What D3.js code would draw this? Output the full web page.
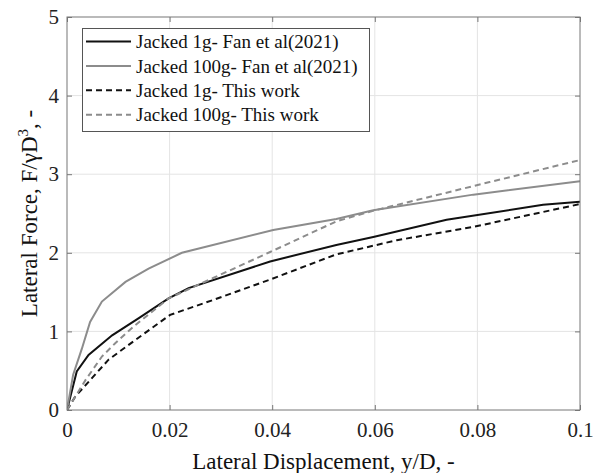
<!DOCTYPE html>
<html><head><meta charset="utf-8">
<script src="https://cdn.jsdelivr.net/npm/d3@7"></script>
<style>body{margin:0;background:#fff}text{font-family:"Liberation Serif","Times New Roman",serif}</style>
</head><body>
<svg id="c" width="597" height="473"></svg>
<script>
const xTicks = [0, 0.02, 0.04, 0.06, 0.08, 0.1];
const xTickLabels = ["0", "0.02", "0.04", "0.06", "0.08", "0.1"];
const yTicks = [0, 1, 2, 3, 4, 5];
const yTickLabels = ["0", "1", "2", "3", "4", "5"];
const seriesNames = ["Jacked 1g- Fan et al(2021)", "Jacked 100g- Fan et al(2021)", "Jacked 1g- This work", "Jacked 100g- This work"];
const fan1g = [[0,0],[0.0019,0.49],[0.0042,0.70],[0.0088,0.95],[0.014,1.17],[0.0198,1.42],[0.0237,1.55],[0.0396,1.89],[0.0525,2.10],[0.0597,2.20],[0.074,2.42],[0.0928,2.61],[0.1,2.65]];
const fan100g = [[0,0],[0.0012,0.45],[0.0029,0.78],[0.0045,1.12],[0.0068,1.38],[0.0114,1.63],[0.0159,1.80],[0.0224,2.0],[0.0402,2.29],[0.0525,2.43],[0.0597,2.54],[0.0792,2.74],[0.1,2.91]];
const this1g = [[0,0],[0.0016,0.17],[0.0045,0.38],[0.0081,0.64],[0.0133,0.89],[0.0201,1.21],[0.0285,1.40],[0.0396,1.66],[0.0525,1.98],[0.0643,2.16],[0.0792,2.33],[0.1,2.62]];
const this100g = [[0,0],[0.0036,0.38],[0.0068,0.68],[0.0094,0.85],[0.0133,1.08],[0.0198,1.42],[0.0285,1.68],[0.0396,2.01],[0.0525,2.40],[0.06,2.54],[0.0824,2.90],[0.1,3.18]];

const svg = d3.select("#c");
const L=67, R=580, T=17, B=410;
const x = d3.scaleLinear().domain([0,0.1]).range([L,R]);
const y = d3.scaleLinear().domain([0,5]).range([B,T]);

// grid
svg.append("g").selectAll("line").data(xTicks.slice(1,-1)).join("line")
  .attr("x1",d=>x(d)).attr("x2",d=>x(d)).attr("y1",T).attr("y2",B).attr("stroke","#e4e4e4").attr("stroke-width",1);
svg.append("g").selectAll("line").data(yTicks.slice(1,-1)).join("line")
  .attr("y1",d=>y(d)).attr("y2",d=>y(d)).attr("x1",L).attr("x2",R).attr("stroke","#e4e4e4").attr("stroke-width",1);

// axes
const ax = svg.append("g").attr("transform",`translate(0,${B})`).call(d3.axisBottom(x).tickValues(xTicks).tickFormat((d,i)=>xTickLabels[i]).tickSizeInner(-5).tickSizeOuter(0).tickPadding(12));
const ay = svg.append("g").attr("transform",`translate(${L},0)`).call(d3.axisLeft(y).tickValues(yTicks).tickFormat((d,i)=>yTickLabels[i]).tickSizeInner(-5).tickSizeOuter(0).tickPadding(8));
const at = svg.append("g").attr("transform",`translate(0,${T})`).call(d3.axisTop(x).tickValues(xTicks).tickFormat("").tickSizeInner(-5).tickSizeOuter(0));
const ar = svg.append("g").attr("transform",`translate(${R},0)`).call(d3.axisRight(y).tickValues(yTicks).tickFormat("").tickSizeInner(-5).tickSizeOuter(0));
[ax,ay,at,ar].forEach(g=>{g.select(".domain").remove();g.selectAll("line").attr("stroke","#777");g.selectAll("text").attr("fill","#222").style("font-size","21px").style("font-family","Liberation Serif");});
ax.selectAll("text").attr("dy","0.71em");

// lines
const line = d3.line().x(d=>x(d[0])).y(d=>y(d[1]));
const styles = [
  {data:fan1g, color:"#111", dash:null},
  {data:fan100g, color:"#8c8c8c", dash:null},
  {data:this1g, color:"#111", dash:"6,4"},
  {data:this100g, color:"#8c8c8c", dash:"6,4"}
];
svg.append("clipPath").attr("id","cp").append("rect").attr("x",L).attr("y",T).attr("width",R-L).attr("height",B-T);
styles.forEach(s=>{
  svg.append("path").attr("d",line(s.data)).attr("fill","none").attr("stroke",s.color).attr("stroke-width",2)
    .attr("stroke-dasharray",s.dash).attr("clip-path","url(#cp)");
});

// box
svg.append("rect").attr("x",L).attr("y",T).attr("width",R-L).attr("height",B-T).attr("fill","none").attr("stroke","#777").attr("stroke-width",1);

// legend
const lg = svg.append("g");
lg.append("rect").attr("x",82.5).attr("y",28.5).attr("width",287).attr("height",103).attr("fill","#fff").attr("stroke","#555").attr("stroke-width",1);
styles.forEach((s,i)=>{
  const yy = 41.5 + i*24.4;
  lg.append("line").attr("x1",86).attr("x2",131).attr("y1",yy).attr("y2",yy).attr("stroke",s.color).attr("stroke-width",2).attr("stroke-dasharray",s.dash);
  lg.append("text").attr("x",136).attr("y",yy).attr("dy","0.35em").style("font-size","19px").attr("fill","#111").text(seriesNames[i]);
});

// axis titles
svg.append("text").attr("x",(L+R)/2).attr("y",469).attr("text-anchor","middle").style("font-size","23px").attr("fill","#111").text("Lateral Displacement, y/D, -");
const yl = svg.append("text").attr("transform",`translate(37,${(T+B)/2}) rotate(-90)`).attr("text-anchor","middle").style("font-size","23px").attr("fill","#111");
yl.append("tspan").text("Lateral Force, F/γD");
yl.append("tspan").attr("dy","-9").style("font-size","15px").text("3");
yl.append("tspan").attr("dy","9").text(", -");
</script>
</body></html>
